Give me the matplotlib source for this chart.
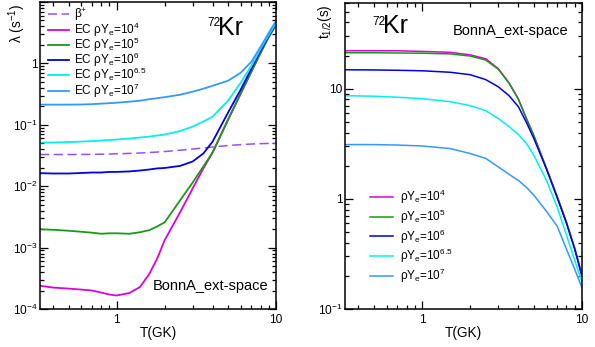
import math
import matplotlib
matplotlib.use("Agg")
import matplotlib.pyplot as plt
from matplotlib.ticker import LogLocator, FuncFormatter, NullFormatter

plt.rcParams['font.family'] = ['Liberation Sans', 'DejaVu Sans']
plt.rcParams['mathtext.fontset'] = 'custom'
plt.rcParams['mathtext.rm'] = 'Liberation Sans'
plt.rcParams['mathtext.it'] = 'Liberation Sans:italic'
plt.rcParams['mathtext.bf'] = 'Liberation Sans:bold'
plt.rcParams['mathtext.default'] = 'regular'

# ---- Rates lambda(T) for 72Kr (s^-1) ----
T_rate = [0.33, 0.4, 0.5, 0.6, 0.7, 0.8, 0.9, 1.0, 1.2, 1.4, 1.6, 1.8, 2.0,
          2.5, 3.0, 3.5, 4.0, 5.0, 6.0, 7.0, 8.0, 9.0, 10.0]
beta_plus = [0.0328, 0.0328, 0.0328, 0.0329, 0.0330, 0.0332, 0.0334, 0.0337,
             0.0342, 0.0347, 0.0354, 0.0360, 0.0367, 0.0385, 0.0403, 0.0419,
             0.0435, 0.0460, 0.0475, 0.0486, 0.0493, 0.0497, 0.0500]
ec_rho4 = [2.39e-4, 2.23e-4, 2.15e-4, 2.07e-4, 2.00e-4, 1.85e-4, 1.72e-4, 1.66e-4,
           1.82e-4, 2.28e-4, 3.70e-4, 6.73e-4, 1.32e-3, 3.76e-3, 9.2e-3, 1.95e-2,
           3.54e-2, 0.121, 0.321, 0.731, 1.49, 2.70, 4.24]
ec_rho5 = [1.99e-3, 1.95e-3, 1.88e-3, 1.81e-3, 1.75e-3, 1.68e-3, 1.71e-3, 1.71e-3,
           1.68e-3, 1.78e-3, 1.92e-3, 2.22e-3, 2.58e-3, 5.88e-3, 1.15e-2, 2.10e-2,
           3.54e-2, 0.121, 0.321, 0.731, 1.49, 2.70, 4.24]
ec_rho6 = [1.63e-2, 1.61e-2, 1.61e-2, 1.64e-2, 1.67e-2, 1.67e-2, 1.71e-2, 1.71e-2,
           1.74e-2, 1.80e-2, 1.87e-2, 1.95e-2, 1.98e-2, 2.14e-2, 2.53e-2, 3.41e-2,
           5.33e-2, 0.158, 0.373, 0.817, 1.60, 2.81, 4.40]
ec_rho65 = [5.14e-2, 5.14e-2, 5.24e-2, 5.33e-2, 5.44e-2, 5.54e-2, 5.65e-2, 5.75e-2,
            5.97e-2, 6.20e-2, 6.43e-2, 6.68e-2, 6.93e-2, 7.90e-2, 9.35e-2, 0.113,
            0.136, 0.247, 0.484, 0.914, 1.73, 2.91, 4.56]
ec_rho7 = [0.213, 0.213, 0.213, 0.214, 0.217, 0.221, 0.225, 0.229,
           0.238, 0.247, 0.261, 0.271, 0.282, 0.309, 0.346, 0.387,
           0.433, 0.522, 0.703, 1.06, 1.86, 3.14, 4.92]

# ---- Half-lives t_1/2(T) (s) ----
T_half = [0.33, 0.5, 0.7, 1.0, 1.5, 2.0, 2.5, 3.0, 3.5, 4.0, 4.5, 5.0,
          6.0, 7.0, 8.0, 9.0, 10.0]
th_rho4 = [22.1, 22.1, 22.1, 21.8, 21.4, 20.3, 18.7, 15.2, 11.3, 8.1, 5.35, 3.76,
           1.89, 1.05, 0.61, 0.356, 0.203]
th_rho5 = [21.2, 21.2, 21.1, 21.0, 20.7, 19.8, 18.2, 15.0, 11.2, 8.0, 5.3, 3.74,
           1.88, 1.05, 0.61, 0.356, 0.203]
th_rho6 = [14.86, 14.8, 14.7, 14.55, 14.1, 13.4, 12.1, 10.4, 8.64, 6.87, 4.92, 3.53,
           1.86, 1.02, 0.60, 0.35, 0.197]
th_rho65 = [8.64, 8.55, 8.37, 8.12, 7.63, 7.02, 6.32, 5.35, 4.53, 3.84, 3.18, 2.48,
            1.47, 0.838, 0.468, 0.278, 0.175]
th_rho7 = [3.11, 3.11, 3.08, 3.02, 2.86, 2.58, 2.33, 1.95, 1.67, 1.47, 1.27, 1.08,
           0.77, 0.564, 0.349, 0.230, 0.155]

density_labels = ['10$^{4}$', '10$^{5}$', '10$^{6}$', '10$^{6.5}$', '10$^{7}$']
colors = ['#dd00dd', '#189a18', '#0000e6', '#00f0f0', '#3399ff']
beta_color = '#9650ff'

fig = plt.figure(figsize=(5.95, 3.47), dpi=100)
ax1 = fig.add_axes([40 / 595, 38 / 347, 236 / 595, 307 / 347])
ax2 = fig.add_axes([345 / 595, 38 / 347, 237 / 595, 306 / 347])


def make_formatter(skip_top=None):
    def log_label(v, pos):
        if skip_top is not None and abs(v - skip_top) < 1e-9 * skip_top:
            return ''
        if abs(v - 1) < 1e-9:
            return '1'
        if abs(v - 10) < 1e-9:
            return '10'
        return '10$^{%d}$' % round(math.log10(v))
    return FuncFormatter(log_label)


for ax, ytop in ((ax1, 10.0), (ax2, None)):
    ax.set_xscale('log')
    ax.set_yscale('log')
    ax.xaxis.set_major_locator(LogLocator(base=10, numticks=10))
    ax.xaxis.set_minor_locator(LogLocator(base=10, subs=range(2, 10), numticks=20))
    ax.yaxis.set_major_locator(LogLocator(base=10, numticks=10))
    ax.yaxis.set_minor_locator(LogLocator(base=10, subs=range(2, 10), numticks=20))
    ax.xaxis.set_major_formatter(make_formatter())
    ax.yaxis.set_major_formatter(make_formatter(ytop))
    ax.xaxis.set_minor_formatter(NullFormatter())
    ax.yaxis.set_minor_formatter(NullFormatter())
    ax.tick_params(which='both', direction='in', top=True, right=True,
                   labelsize=8.6, width=0.9)
    ax.tick_params(which='major', length=5.8)
    ax.tick_params(which='minor', length=2.8)
    ax.tick_params(axis='x', pad=3.5)
    ax.tick_params(axis='y', pad=2)
    for s in ax.spines.values():
        s.set_linewidth(1.1)

# Left: rates
ax1.plot(T_rate, beta_plus, color=beta_color, lw=1.1, ls=(0, (6, 3)),
         label=r'$\beta^{+}$')
for vals, lab, c in zip([ec_rho4, ec_rho5, ec_rho6, ec_rho65, ec_rho7],
                        density_labels, colors):
    ax1.plot(T_rate, vals, color=c, lw=1.3, label='EC ρY$_{e}$=' + lab)
ax1.set_xlim(0.33, 10)
ax1.set_ylim(1e-4, 10)
ax1.set_xlabel('T(GK)', fontsize=9.8)
ax1.xaxis.set_label_coords(0.5, -0.055)
ax1.set_ylabel('λ (s$^{-1}$)', fontsize=9.8, loc='top')
ax1.yaxis.set_label_coords(-0.05, 0.995)
ax1.text(0.708, 0.922, '72', transform=ax1.transAxes, fontsize=8.5,
         ha='left', va='baseline')
ax1.text(0.756, 0.8925, 'Kr', transform=ax1.transAxes, fontsize=18,
         ha='left', va='baseline')
ax1.text(0.966, 0.062, 'BonnA_ext-space', transform=ax1.transAxes,
         fontsize=10.5, ha='right', va='baseline')
ax1.legend(loc='upper left', bbox_to_anchor=(0.035, 0.985), frameon=False,
           fontsize=8.5, handlelength=1.75, handletextpad=0.4,
           labelspacing=-0.25, borderpad=0, borderaxespad=0)

# Right: half-lives
for vals, lab, c in zip([th_rho4, th_rho5, th_rho6, th_rho65, th_rho7],
                        density_labels, colors):
    ax2.plot(T_half, vals, color=c, lw=1.1, label='ρY$_{e}$=' + lab)
ax2.set_xlim(0.33, 10)
ax2.set_ylim(0.1, 60)
ax2.set_xlabel('T(GK)', fontsize=9.8)
ax2.xaxis.set_label_coords(0.5, -0.055)
ax2.set_ylabel('t$_{1/2}$(s)', fontsize=9.8, loc='top')
ax2.yaxis.set_label_coords(-0.045, 0.995)
ax2.text(0.114, 0.928, '72', transform=ax2.transAxes, fontsize=8.5,
         ha='left', va='baseline')
ax2.text(0.162, 0.902, 'Kr', transform=ax2.transAxes, fontsize=18,
         ha='left', va='baseline')
ax2.text(0.941, 0.897, 'BonnA_ext-space', transform=ax2.transAxes,
         fontsize=10.5, ha='right', va='baseline')
ax2.legend(loc='upper left', bbox_to_anchor=(0.105, 0.395), frameon=False,
           fontsize=8.5, handlelength=2.0, handletextpad=0.55,
           labelspacing=0.12, borderpad=0, borderaxespad=0)

fig.savefig('out.png', dpi=100)
